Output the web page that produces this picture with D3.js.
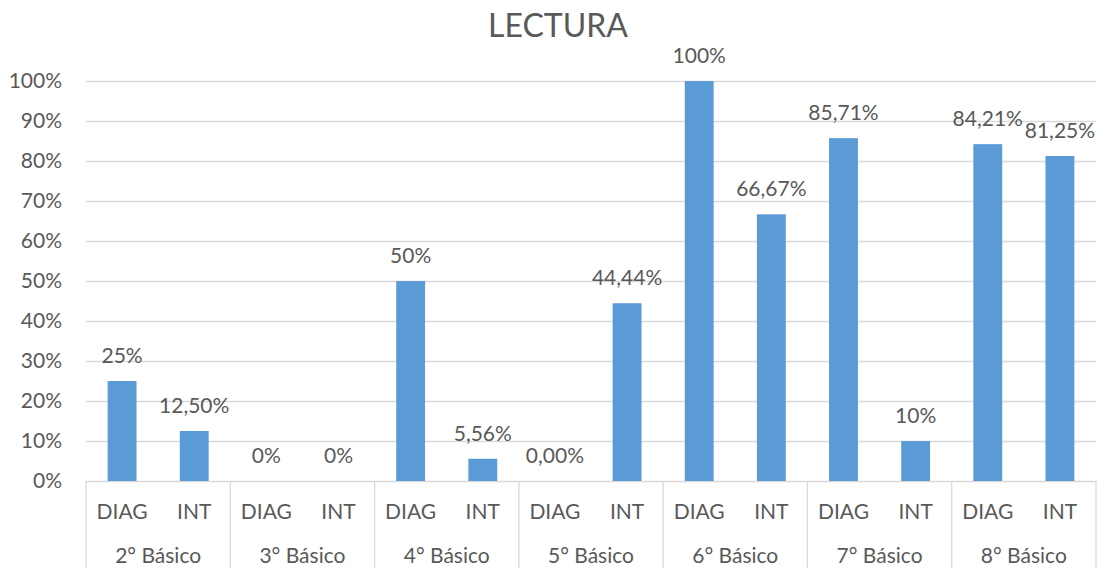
<!DOCTYPE html>
<html><head><meta charset="utf-8">
<script src="https://cdn.jsdelivr.net/npm/d3@7"></script>
<style>body{margin:0;background:#fff}svg{display:block}</style>
</head><body><svg id="c" width="1114" height="568"></svg>
<script>
const title = "LECTURA";
const groups = ["2° Básico","3° Básico","4° Básico","5° Básico","6° Básico","7° Básico","8° Básico"];
const series = ["DIAG","INT"];
const diagValues = [25, 0, 50, 0, 100, 85.71, 84.21];
const intValues = [12.5, 0, 5.56, 44.44, 66.67, 10, 81.25];
const diagLabels = ["25%","0%","50%","0,00%","100%","85,71%","84,21%"];
const intLabels = ["12,50%","0%","5,56%","44,44%","66,67%","10%","81,25%"];
const yTicks = [0,10,20,30,40,50,60,70,80,90,100];

const font = "Lato, 'Open Sans', sans-serif";
const fs = "21px";
const textColor = "#595959", gridColor = "#d9d9d9", barColor = "#5b9bd5";
const L = 86, R = 1096, T = 81, B = 481;
const svg = d3.select("#c");

const x0 = d3.scaleBand().domain(groups).range([L, R]).padding(0);
const x1 = d3.scaleBand().domain(series).range([0, x0.bandwidth()]).paddingInner(0.6).paddingOuter(0.3);
const y = d3.scaleLinear().domain([0, 100]).range([B, T]);

const rows = groups.map((g, i) => ({g, vals: [
  {s: "DIAG", v: diagValues[i], lab: diagLabels[i]},
  {s: "INT", v: intValues[i], lab: intLabels[i]}]}));

// gridlines
const yAxis = d3.axisLeft(y).tickValues(yTicks).tickSize(-(R - L)).tickFormat(d => d + "%").tickPadding(24);
const ga = svg.append("g").attr("transform", `translate(${L},0)`).call(yAxis);
ga.select(".domain").remove();
ga.selectAll(".tick line").attr("stroke", gridColor).attr("stroke-width", 1.3);
ga.selectAll(".tick text").attr("fill", textColor).style("font-family", font).style("font-size", fs);

// group separators
svg.append("g").selectAll("line").data(groups.concat(["_end"])).join("line")
  .attr("x1", (d, i) => i < groups.length ? x0(d) : R)
  .attr("x2", (d, i) => i < groups.length ? x0(d) : R)
  .attr("y1", B).attr("y2", 568)
  .attr("stroke", gridColor).attr("stroke-width", 1.3);

// bars
const gg = svg.append("g").selectAll("g").data(rows).join("g")
  .attr("transform", d => `translate(${x0(d.g)},0)`);
gg.selectAll("rect").data(d => d.vals).join("rect")
  .attr("x", d => x1(d.s)).attr("width", x1.bandwidth())
  .attr("y", d => y(d.v)).attr("height", d => B - y(d.v))
  .attr("fill", barColor);
gg.selectAll("text.v").data(d => d.vals).join("text").attr("class", "v")
  .attr("x", d => x1(d.s) + x1.bandwidth() / 2)
  .attr("y", d => y(d.v) - 18)
  .attr("text-anchor", "middle").attr("fill", textColor)
  .style("font-family", font).style("font-size", fs)
  .text(d => d.lab);
// inner category labels
gg.selectAll("text.s").data(d => d.vals).join("text").attr("class", "s")
  .attr("x", d => x1(d.s) + x1.bandwidth() / 2)
  .attr("y", 519)
  .attr("text-anchor", "middle").attr("fill", textColor)
  .style("font-family", font).style("font-size", fs)
  .text(d => d.s);
// group labels
gg.append("text")
  .attr("x", x0.bandwidth() / 2).attr("y", 563)
  .attr("text-anchor", "middle").attr("fill", textColor)
  .style("font-family", font).style("font-size", fs)
  .text(d => d.g);

svg.append("text").attr("x", 558).attr("y", 37).attr("text-anchor", "middle")
  .attr("fill", textColor).style("font-family", font).style("font-size", "32px")
  .text(title);
</script></body></html>
